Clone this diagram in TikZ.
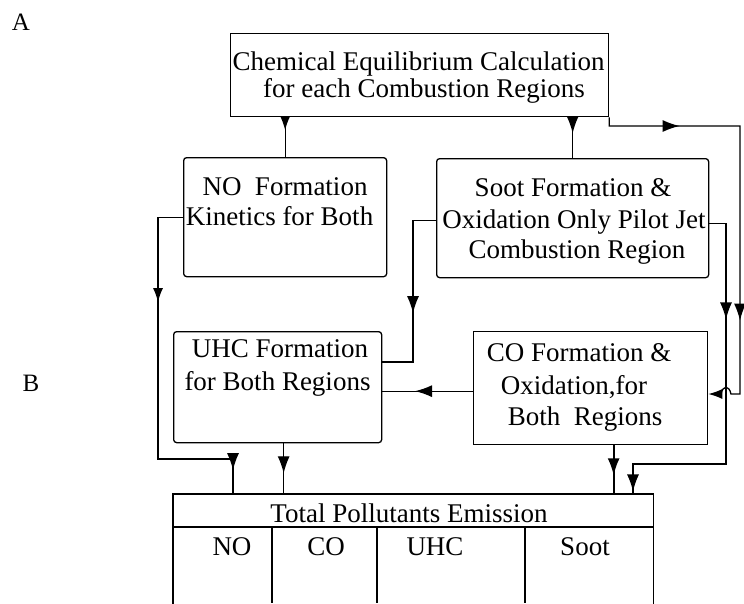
\documentclass[tikz,border=0pt]{standalone}
\usepackage{fontspec}
\setmainfont{Liberation Serif}
\usetikzlibrary{arrows.meta,decorations.markings,calc}
\tikzset{
  bigtip/.tip={Latex[length=17pt,width=12pt]},
  smalltip/.tip={Latex[length=14pt,width=10pt]},
  box/.style={draw, line width=1.3pt, inner sep=0pt, anchor=north west},
  rbox/.style={box, rounded corners=3pt},
  txt/.style={anchor=base, inner sep=0pt, font=\fontsize{27}{30}\selectfont},
  lbl/.style={anchor=base, inner sep=0pt, font=\fontsize{25}{28}\selectfont},
  wire/.style={line width=1.3pt},
  tabline/.style={line width=1.3pt},
  am/.style={postaction={decorate,decoration={markings,mark=at position #1 with {\arrow{bigtip}}}}},
  sam/.style={postaction={decorate,decoration={markings,mark=at position #1 with {\arrow{smalltip}}}}},
}
\begin{document}
\begin{tikzpicture}[x=1pt,y=-1pt]
\useasboundingbox (0,0) rectangle (744,603);

% labels
\node[lbl] (lA) at (21,30) {A};
\node[lbl] (lB) at (31,391) {B};

% boxes
\node[box, minimum width=378pt, minimum height=83pt] (top) at (230,33) {};
\node[rbox, minimum width=203pt, minimum height=119pt] (no) at (183,157) {};
\node[rbox, minimum width=272pt, minimum height=119pt] (soot) at (436,158) {};
\node[rbox, minimum width=208pt, minimum height=111pt] (uhc) at (173,331) {};
\node[box, minimum width=234pt, minimum height=113pt] (co) at (473,331) {};
\node[box, draw=none, minimum width=479pt, minimum height=109pt] (tab) at (173,494) {};

% table lines
\draw[tabline] (tab.south west) |- (tab.north east) -- (tab.south east);
\draw[tabline] ($(tab.north west)+(0,33)$) -- ($(tab.north east)+(0,33)$);
\draw[tabline] (272,527) -- (272,603);
\draw[tabline] (377,527) -- (377,603);
\draw[tabline] (525,527) -- (525,603);

% texts
\node[txt] (t1) at (418.5,70) {Chemical Equilibrium Calculation};
\node[txt] (t2) at (424,97) {for each Combustion Regions};
\node[txt] (no1) at (285,195) {NO\ \ Formation};
\node[txt] (no2) at (279.5,225) {Kinetics for Both};
\node[txt] (so1) at (573,196) {Soot Formation \&};
\node[txt] (so2) at (574,228) {Oxidation Only Pilot Jet};
\node[txt] (so3) at (577,258) {Combustion Region};
\node[txt] (uh1) at (280,357) {UHC Formation};
\node[txt] (uh2) at (277.5,390) {for Both Regions};
\node[txt] (co1) at (579,361) {CO Formation \&};
\node[txt] (co2) at (574,394) {Oxidation,for};
\node[txt] (co3) at (585,425) {Both\ \ Regions};
\node[txt] (tp) at (409,522) {Total Pollutants Emission};
\node[txt] (cNO) at (232,555) {NO};
\node[txt] (cCO) at (326,555) {CO};
\node[txt] (cUHC) at (435,555) {UHC};
\node[txt] (cSoot) at (585,555) {Soot};

% coordinates
\coordinate (r1) at (740,126);
\coordinate (r2) at (740,394);
\coordinate (h1) at (731,394);
\coordinate (h2) at (721,394);
\coordinate (s1) at (726,464);
\coordinate (s2) at (633,464);
\coordinate (u1) at (413,362);
\coordinate (n1) at (158,459);
\coordinate (n2) at (233,459);

% connectors
\draw[wire, sam=13pt] (top.south -| no.north) -- (no.north);
\draw[wire, am=16pt] (top.south -| soot.north) -- (soot.north);
\draw[wire, am=79pt, am=334pt, -{smalltip}] (top.south east) |- (r1) -- (r2) -- (h1)
  .. controls ($(h1)+(-2,-9)$) and ($(h2)+(2,-9)$) .. (h2) -- (co.east |- r2);
\draw[wire, am=113pt, am=378pt] ([yshift=-5pt]soot.east) -| (s1) -- (s2) -- (s2 |- tab.north);
\draw[wire, am=116pt] ([yshift=-2pt]soot.west) -| (u1) -- (u1 -| uhc.east);
\draw[wire, am=58pt] ([yshift=-3pt]co.west) -- ([yshift=-3pt]co.west -| uhc.east);
\draw[wire, sam=110pt, am=353pt] (no.west) -| (n1) -- (n2) -- (n2 |- tab.north);
\draw[wire, am=30pt] ([xshift=6pt]uhc.south) -- ([xshift=6pt]uhc.south |- tab.north);
\draw[wire, line width=1.9pt, am=30pt] ([xshift=23pt]co.south) -- ([xshift=23pt]co.south |- tab.north);
\end{tikzpicture}
\end{document}
